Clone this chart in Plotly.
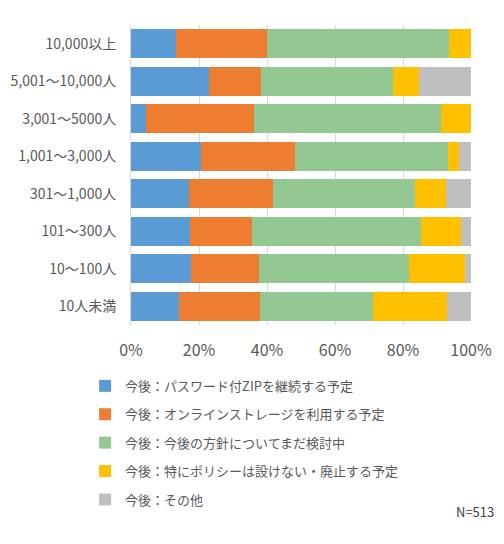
import plotly.graph_objects as go

# categories (top to bottom)
categories = ["10,000以上", "5,001～10,000人", "3,001～5000人", "1,001～3,000人",
              "301～1,000人", "101～300人", "10～100人", "10人未満"]

# percentages
zip_continue = [13.2, 23.0, 4.4, 20.6, 17.1, 17.3, 17.7, 14.2]
online_storage = [26.8, 15.2, 31.8, 27.6, 24.7, 18.3, 20.0, 23.8]
undecided = [53.4, 38.8, 54.9, 44.9, 41.8, 49.6, 44.2, 33.3]
no_policy = [6.6, 7.6, 8.9, 3.5, 8.9, 12.0, 16.2, 21.5]
other = [0.0, 15.4, 0.0, 3.4, 7.5, 2.8, 1.9, 7.2]

series_names = [
    "今後：パスワード付ZIPを継続する予定",
    "今後：オンラインストレージを利用する予定",
    "今後：今後の方針についてまだ検討中",
    "今後：特にポリシーは設けない・廃止する予定",
    "今後：その他",
]
series_values = [zip_continue, online_storage, undecided, no_policy, other]
colors = ["#5B9BD5", "#ED7D31", "#93C893", "#FFC000", "#BFBFBF"]

fig = go.Figure()
for i, (name, vals, col) in enumerate(zip(series_names, series_values, colors)):
    fig.add_trace(go.Bar(
        y=categories, x=vals, name=name, orientation="h",
        marker=dict(color=col, line=dict(width=0)),
        legendgroup=str(i),
    ))

font_jp = "Noto Sans CJK JP"
fig.update_layout(
    width=504, height=544,
    barmode="stack", bargap=0.23,
    plot_bgcolor="white", paper_bgcolor="white",
    margin=dict(l=131, r=33, t=25, b=219),
    font=dict(family=font_jp, size=13, color="#595959"),
    xaxis=dict(range=[0, 100], dtick=20, ticksuffix="%",
               showgrid=True, gridcolor="#D9D9D9", gridwidth=1,
               zeroline=False, tickfont=dict(size=16, color="#595959"),
               ticklabelstandoff=14, fixedrange=True, automargin=False),
    yaxis=dict(autorange="reversed", showline=True, linecolor="#D9D9D9",
               ticks="", ticklabelstandoff=11, fixedrange=True, automargin=False,
               tickfont=dict(size=14, color="#595959")),
    legend=dict(orientation="v", x=-0.135, xanchor="left", y=-0.153, yanchor="top",
                traceorder="grouped", tracegroupgap=8.5,
                font=dict(size=13, color="#595959"), itemwidth=30),
    showlegend=True,
    annotations=[dict(text="N=513", x=1.073, xanchor="right",
                      y=-(511 - 325) / 300, yanchor="middle",
                      xref="paper", yref="paper", showarrow=False,
                      font=dict(size=13, color="#404040"))],
)

# drop the default page margin so the figure sits at the window corner
fig.write_html("out.html", config={"displayModeBar": False},
               post_script="document.body.style.margin='0';document.body.style.overflow='hidden';")
